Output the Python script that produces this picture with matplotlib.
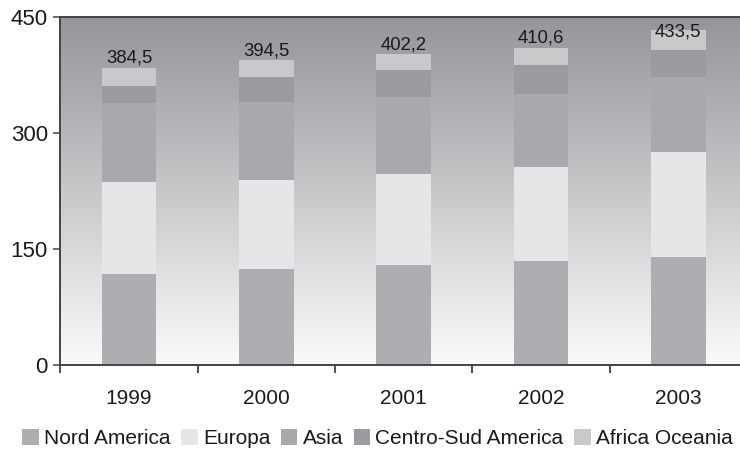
import numpy as np
import matplotlib
matplotlib.use("Agg")
import matplotlib.pyplot as plt
from matplotlib.ticker import FixedLocator

plt.rcParams['font.family'] = ['Liberation Sans', 'DejaVu Sans']

years = ["1999", "2000", "2001", "2002", "2003"]
totals = [384.5, 394.5, 402.2, 410.6, 433.5]
nord_america = [117.8, 124.2, 129.4, 134.6, 139.8]
europa = [119.0, 115.2, 117.8, 121.6, 135.9]
asia = [102.3, 101.0, 99.6, 94.5, 97.0]
centro_sud_america = [22.0, 32.3, 35.0, 37.5, 35.0]
africa_oceania = [23.4, 21.8, 20.4, 22.4, 25.8]

series = [
    ("Nord America", nord_america, "#adaeb1"),
    ("Europa", europa, "#e5e6e8"),
    ("Asia", asia, "#a8a9ac"),
    ("Centro-Sud America", centro_sud_america, "#9b9ca0"),
    ("Africa Oceania", africa_oceania, "#c8c9cb"),
]

W, H = 740, 454
fig = plt.figure(figsize=(W / 100, H / 100), dpi=100)
ax_left, ax_right = 60.3, 747.0
ax_top, ax_bottom = 17.3, 365.0
ax = fig.add_axes([ax_left / W, (H - ax_bottom) / H,
                   (ax_right - ax_left) / W, (ax_bottom - ax_top) / H])

# vertical gray gradient behind the bars
grad = np.linspace(0, 1, 256).reshape(-1, 1)
top_c = np.array([0x95, 0x96, 0x9a]) / 255
bot_c = np.array([0xfa, 0xfa, 0xfa]) / 255
img = top_c[None, None, :] * (1 - grad[:, :, None]) + bot_c[None, None, :] * grad[:, :, None]
ax.imshow(img, extent=[0, 1, 0, 1], transform=ax.transAxes, aspect="auto",
          zorder=0, interpolation="bilinear")

x = np.arange(len(years))
bottom = np.zeros(len(years))
handles = []
for name, vals, color in series:
    b = ax.bar(x, vals, width=0.40, bottom=bottom, color=color,
               edgecolor="none", zorder=2, label=name)
    handles.append(b)
    bottom += np.array(vals)

ymax = 450
px = ymax / (ax_bottom - ax_top)  # data units per pixel
for xi, t in zip(x, totals):
    # keep the total label inside the plotting area
    y_lab = min(t + 5 * px, ymax - 19 * px)
    ax.text(xi, y_lab, f"{t:.1f}".replace(".", ","), ha="center",
            va="baseline", fontsize=13.3, color="#1a1a1a", zorder=3)

ax.set_xlim(-0.5, 4.5)
ax.set_ylim(0, ymax)
ax.set_yticks([0, 150, 300, 450])
ax.tick_params(axis="y", labelsize=16, length=5, width=1.2, color="#555555",
               pad=4, labelcolor="#1a1a1a")
ax.set_xticks(x)
ax.set_xticklabels(years)
ax.tick_params(axis="x", which="major", length=0, pad=17, labelsize=15,
               labelcolor="#1a1a1a")
ax.xaxis.set_minor_locator(FixedLocator(np.arange(-0.5, 5.0, 1.0)))
ax.tick_params(axis="x", which="minor", length=6, width=1.5, color="#555555")

for side in ("left", "bottom", "top"):
    ax.spines[side].set_color("#444444")
    ax.spines[side].set_linewidth(1.4)
ax.spines["right"].set_visible(False)
ax.spines["left"].set_zorder(4)
ax.spines["bottom"].set_zorder(4)

fig.legend(handles=handles, loc="lower center", bbox_to_anchor=(0.51, -0.006),
           ncol=5, frameon=False, fontsize=15, handlelength=0.8,
           handleheight=0.8, handletextpad=0.25, columnspacing=0.5,
           borderaxespad=0, labelcolor="#1a1a1a")

fig.savefig("out.png", dpi=100)
